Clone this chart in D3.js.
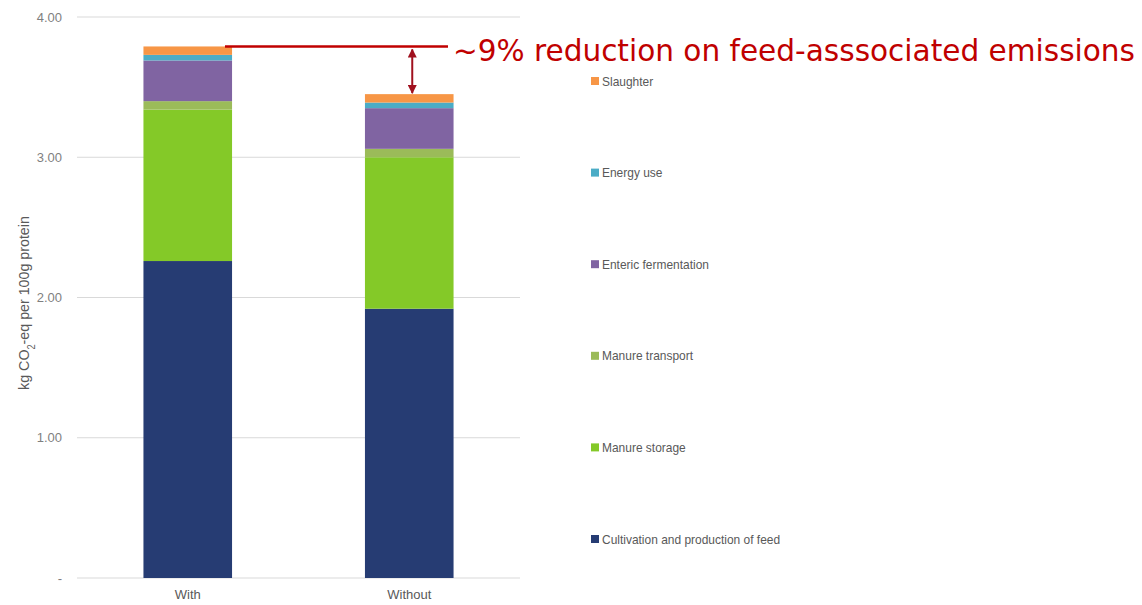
<!DOCTYPE html>
<html>
<head>
<meta charset="utf-8">
<script src="https://cdn.jsdelivr.net/npm/d3@7"></script>
<style>
  html, body { margin: 0; padding: 0; background: #fff; }
  svg { display: block; }
</style>
</head>
<body>
<svg id="chart" width="1142" height="605"></svg>
<script>
// Scenarios on the x axis
const categories = ["With", "Without"];

// Emission sources, bottom to top of each stack
const sources = [
  "Cultivation and production of feed",
  "Manure storage",
  "Manure transport",
  "Enteric fermentation",
  "Energy use",
  "Slaughter"
];

// kg CO2-eq per 100 g protein, one array per source (With, Without)
const feedValues      = [2.26, 1.92];
const storageValues   = [1.08, 1.08];
const transportValues = [0.06, 0.06];
const entericValues   = [0.29, 0.29];
const energyValues    = [0.04, 0.04];
const slaughterValues = [0.06, 0.06];

const yTicks = [0, 1, 2, 3, 4];
const yTickLabels = ["-", "1.00", "2.00", "3.00", "4.00"];

const colors = ["#263c73", "#84c928", "#9bbb59", "#8064a2", "#4bacc6", "#f79646"];

const annotation = "~9% reduction on feed-asssociated emissions";

// Build table for d3.stack
const seriesValues = [feedValues, storageValues, transportValues, entericValues, energyValues, slaughterValues];
const table = categories.map((c, i) => {
  const row = { category: c };
  sources.forEach((s, k) => { row[s] = seriesValues[k][i]; });
  return row;
});

const labelFont = "'Liberation Sans', Arial, sans-serif";
const narrow = 0.92; // horizontal squeeze to get a narrow face

const svg = d3.select("#chart");
const margin = { left: 77, right: 622, top: 17, bottom: 27 };
const W = 1142, H = 605;

const x = d3.scaleBand()
  .domain(categories)
  .range([margin.left, W - margin.right])
  .paddingInner(0.6)
  .paddingOuter(0.3);

const y = d3.scaleLinear()
  .domain([0, 4])
  .range([H - margin.bottom, margin.top]);

// Gridlines
svg.append("g")
  .selectAll("line")
  .data(yTicks)
  .join("line")
  .attr("x1", margin.left)
  .attr("x2", W - margin.right)
  .attr("y1", d => y(d))
  .attr("y2", d => y(d))
  .attr("stroke", "#d9d9d9")
  .attr("stroke-width", 1);

// Y axis labels
const yAxis = d3.axisLeft(y)
  .tickValues(yTicks)
  .tickFormat((d, i) => yTickLabels[i])
  .tickSize(0)
  .tickPadding(15);
const gy = svg.append("g")
  .attr("transform", `translate(${margin.left},0)`)
  .call(yAxis);
gy.select(".domain").remove();
gy.selectAll("text")
  .attr("fill", "#7f7f7f")
  .style("font-family", labelFont)
  .style("font-size", "13px");

// Y axis title
const yTitle = svg.append("text")
  .attr("transform", `translate(29,303) rotate(-90) scale(${narrow},1)`)
  .attr("text-anchor", "middle")
  .attr("fill", "#595959")
  .style("font-family", labelFont)
  .style("font-size", "15.5px");
yTitle.append("tspan").text("kg CO");
yTitle.append("tspan").attr("baseline-shift", "sub").style("font-size", "10px").text("2");
yTitle.append("tspan").text("-eq per 100g protein");

// Stacked bars
const stack = d3.stack().keys(sources);
const layers = stack(table);

svg.append("g")
  .selectAll("g")
  .data(layers)
  .join("g")
  .attr("fill", (d, i) => colors[i])
  .selectAll("rect")
  .data(d => d)
  .join("rect")
  .attr("x", d => x(d.data.category))
  .attr("width", x.bandwidth())
  .attr("y", d => y(d[1]))
  .attr("height", d => y(d[0]) - y(d[1]));

// X axis
const xAxis = d3.axisBottom(x).tickSize(0).tickPadding(12);
const gx = svg.append("g")
  .attr("transform", `translate(0,${y(0)})`)
  .call(xAxis);
gx.select(".domain").remove();
gx.selectAll("text")
  .attr("fill", "#595959")
  .style("font-family", labelFont)
  .style("font-size", "13px");

// Legend, top entry = top of stack
const legendY = d3.scalePoint()
  .domain(sources.slice().reverse())
  .range([81, 539]);
const legend = svg.append("g")
  .selectAll("g")
  .data(sources)
  .join("g")
  .attr("transform", d => `translate(591,${legendY(d)})`);
legend.append("rect")
  .attr("x", 0).attr("y", -4)
  .attr("width", 8).attr("height", 8)
  .attr("fill", (d, i) => colors[i]);
legend.append("text")
  .attr("transform", `translate(11,0) scale(${narrow},1)`)
  .attr("dy", "0.35em")
  .attr("fill", "#595959")
  .style("font-family", labelFont)
  .style("font-size", "13px")
  .text(d => d);

// Reduction annotation
const totals = table.map(r => d3.sum(sources, s => r[s]));
const red = "#c00000";
const lineY = y(totals[0]);
svg.append("line")
  .attr("x1", x("With") + x.bandwidth() * 0.92)
  .attr("x2", 448)
  .attr("y1", lineY).attr("y2", lineY)
  .attr("stroke", red).attr("stroke-width", 2.5);

svg.append("defs").append("marker")
  .attr("id", "head")
  .attr("viewBox", "0 0 10 10")
  .attr("refX", 9).attr("refY", 5)
  .attr("markerWidth", 4.5).attr("markerHeight", 4.5)
  .attr("orient", "auto-start-reverse")
  .append("path")
  .attr("d", "M0,0 L10,5 L0,10 z")
  .attr("fill", "#a0101e");

const arrowX = x("Without") + x.bandwidth() / 2 + 3;
svg.append("line")
  .attr("x1", arrowX).attr("x2", arrowX)
  .attr("y1", lineY + 3).attr("y2", y(totals[1]) - 1)
  .attr("stroke", "#a0101e").attr("stroke-width", 2)
  .attr("marker-start", "url(#head)")
  .attr("marker-end", "url(#head)");

svg.append("text")
  .attr("x", 453)
  .attr("y", 61)
  .attr("fill", red)
  .attr("textLength", 682)
  .attr("lengthAdjust", "spacingAndGlyphs")
  .style("font-family", "'DejaVu Sans Condensed', 'DejaVu Sans', Verdana, sans-serif")
  .style("font-size", "31px")
  .text(annotation);
</script>
</body>
</html>
